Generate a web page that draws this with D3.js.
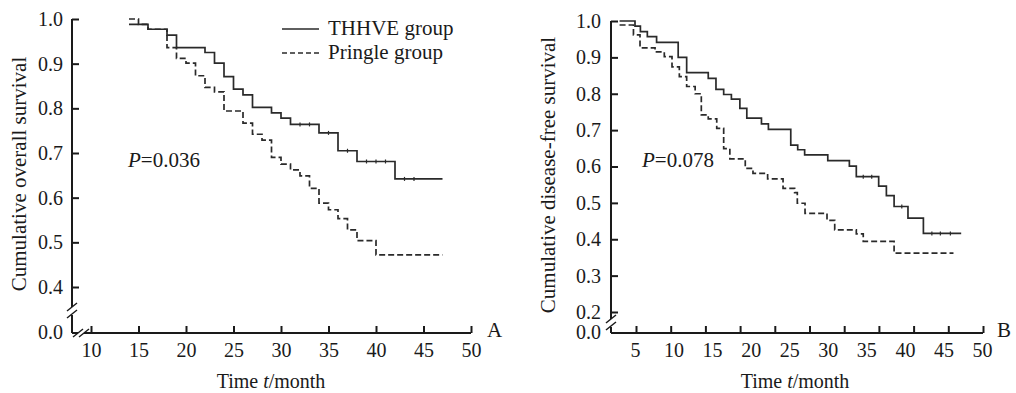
<!DOCTYPE html>
<html>
<head>
<meta charset="utf-8">
<script src="https://cdn.jsdelivr.net/npm/d3@7"></script>
<style>
  body { margin: 0; background: #fff; }
  svg text { font-family: "Liberation Serif", "Times New Roman", serif; fill: #1a1a1a; }
</style>
</head>
<body>
<div class="chart"></div>
<script>
// panel A: overall survival
const thhveOsTime = [14, 16, 18, 19, 22, 23, 24, 25, 26, 27, 29, 30, 31, 34, 36, 38, 42, 47]
const thhveOsSurv = [0.988, 0.977, 0.964, 0.936, 0.925, 0.901, 0.871, 0.843, 0.830, 0.802, 0.790, 0.778, 0.764, 0.745, 0.705, 0.681, 0.642, 0.642]
const thhveOsCensor = [32, 33, 35, 37, 39, 40, 41, 43, 44]
const pringleOsTime = [14, 15, 16, 18, 19, 20, 21, 22, 23, 24, 26, 27, 28, 29, 30, 31, 32, 33, 34, 35, 36, 37, 38, 40, 47]
const pringleOsSurv = [1.0, 0.988, 0.977, 0.936, 0.912, 0.901, 0.873, 0.847, 0.837, 0.794, 0.767, 0.742, 0.729, 0.690, 0.675, 0.662, 0.649, 0.621, 0.588, 0.573, 0.553, 0.528, 0.504, 0.472, 0.472]

// panel B: disease-free survival
const thhveDfsTime = [3, 5, 5.7, 6.6, 7.8, 10.6, 11.7, 14.5, 15.5, 16.5, 17.5, 18.6, 19.5, 21.4, 22.3, 25.2, 26.1, 27, 30, 32.8, 33.7, 36.6, 37.6, 38.6, 40.4, 42.4, 47.3]
const thhveDfsSurv = [1.0, 0.986, 0.971, 0.957, 0.941, 0.900, 0.858, 0.842, 0.812, 0.798, 0.785, 0.760, 0.733, 0.717, 0.702, 0.659, 0.646, 0.632, 0.616, 0.601, 0.572, 0.546, 0.520, 0.490, 0.458, 0.416, 0.416]
const thhveDfsCensor = [34.6, 35.7, 39.6, 43.5, 44.6, 45.9]
const pringleDfsTime = [3, 4.8, 5.65, 7.6, 8.8, 9.8, 10.75, 11.7, 12.8, 13.6, 14.5, 15.6, 16.5, 17.3, 19.3, 20.3, 22.2, 24.2, 25.7, 26.05, 27.05, 29.9, 30.9, 33.7, 34.6, 38.6, 46.3]
const pringleDfsSurv = [0.989, 0.962, 0.926, 0.915, 0.902, 0.874, 0.847, 0.82, 0.80, 0.742, 0.731, 0.705, 0.649, 0.621, 0.595, 0.581, 0.566, 0.54, 0.528, 0.499, 0.471, 0.452, 0.426, 0.415, 0.394, 0.362, 0.362]

const yTicksA = [0.4, 0.5, 0.6, 0.7, 0.8, 0.9, 1.0]
const yTicksB = [0.2, 0.3, 0.4, 0.5, 0.6, 0.7, 0.8, 0.9, 1.0]
const xTicksA = [10, 15, 20, 25, 30, 35, 40, 45, 50]
const xLabelsB = [5, 10, 15, 20, 25, 30, 35, 40, 45, 50]
const xMarksB = d3.range(11).map(i => 5 + 4.5 * i)
const groups = ["THHVE group", "Pringle group"]

var width = 1016
var height = 393
var ink = "#1a1a1a"

var svg = d3.select(".chart").append("svg")
  .attr("width", width)
  .attr("height", height)

function zip(t, s){ return t.map((d, i) => [d, s[i]]) }

function panel(p){
  var x = p.x, y = p.y
  var y0 = p.bottom
  var ax = x(p.axisStart)

  // y axis ticks + labels
  var ya = svg.append("g")
    .attr("transform", `translate(${ax},0)`)
    .call(d3.axisLeft(y).tickValues(p.yTicks).tickSize(-7).tickSizeOuter(0)
      .tickPadding(p.yPad).tickFormat(d3.format(".1f")))
  ya.select(".domain").remove()
  ya.selectAll("line").attr("stroke", ink).attr("stroke-width", 2)
  ya.selectAll("text").attr("font-size", 20)
  svg.append("text").attr("x", ax - p.yPad).attr("y", y0 + 6)
    .attr("text-anchor", "end").attr("font-size", 20).text("0.0")

  // x axis
  var xa = svg.append("g")
    .attr("transform", `translate(0,${y0})`)
    .call(d3.axisBottom(p.xMarkScale || x).tickValues(p.xMarks).tickSize(-7).tickSizeOuter(0).tickFormat(""))
  xa.select(".domain").remove()
  xa.selectAll("line").attr("stroke", ink).attr("stroke-width", 2)
  var xl = svg.append("g")
    .attr("transform", `translate(0,${y0})`)
    .call(d3.axisBottom(x).tickValues(p.xLabels).tickSize(0).tickPadding(10))
  xl.select(".domain").remove()
  xl.selectAll("text").attr("font-size", 20)

  // axis lines with breaks
  var yTop = y(1.0)
  var xEnd = (p.xMarkScale || x)(50)
  var lines = [
    [ax, yTop, ax, p.yBreak - 4],
    [ax, p.yBreak + 4, ax, y0],
  ]
  if (p.xBreak){
    lines.push([ax, y0, p.xBreak - 3, y0], [p.xBreak + 3, y0, xEnd, y0])
  } else {
    lines.push([ax, y0, xEnd, y0])
  }
  svg.selectAll(null).data(lines).enter().append("line")
    .attr("x1", d => d[0]).attr("y1", d => d[1]).attr("x2", d => d[2]).attr("y2", d => d[3])
    .attr("stroke", ink).attr("stroke-width", 2)

  var slashes = [[ax, p.yBreak - 4], [ax, p.yBreak + 3]]
  if (p.xBreak) slashes.push([p.xBreak - 3, y0], [p.xBreak + 3, y0])
  svg.selectAll(null).data(slashes).enter().append("line")
    .attr("x1", d => d[0] - 5).attr("y1", d => d[1] + 4)
    .attr("x2", d => d[0] + 5).attr("y2", d => d[1] - 4)
    .attr("stroke", ink).attr("stroke-width", 1.5)

  // survival curves
  var line = d3.line().x(d => x(d[0])).y(d => y(d[1])).curve(d3.curveStepAfter)
  svg.append("path").datum(zip(p.solidT, p.solidS)).attr("d", line)
    .attr("fill", "none").attr("stroke", "#2a2a2a").attr("stroke-width", 1.7)
  svg.append("path").datum(zip(p.dashT, p.dashS)).attr("d", line)
    .attr("fill", "none").attr("stroke", "#2a2a2a").attr("stroke-width", 1.7)
    .attr("stroke-dasharray", "6,3")

  // censor marks
  var step = d3.scaleThreshold().domain(p.solidT.slice(1)).range(p.solidS)
  svg.selectAll(null).data(p.censor).enter().append("line")
    .attr("x1", d => x(d)).attr("x2", d => x(d))
    .attr("y1", d => y(step(d)) - 2).attr("y2", d => y(step(d)) + 2)
    .attr("stroke", "#2a2a2a").attr("stroke-width", 1.2)

  // texts
  svg.append("text")
    .attr("transform", `translate(${p.yLabelX},${p.yLabelY}) rotate(-90)`)
    .attr("text-anchor", "middle").attr("font-size", 21).text(p.yLabel)
  var tl = svg.append("text").attr("x", p.xLabelX).attr("y", 388)
    .attr("text-anchor", "middle").attr("font-size", 20)
  tl.append("tspan").text("Time ")
  tl.append("tspan").attr("font-style", "italic").text("t")
  tl.append("tspan").text("/month")

  var pt = svg.append("text").attr("x", p.pX).attr("y", 167).attr("font-size", 21)
  pt.append("tspan").attr("font-style", "italic").text("P")
  pt.append("tspan").text("=" + p.pValue)

  svg.append("text").attr("x", p.letterX).attr("y", 337).attr("font-size", 21).text(p.letter)
}

panel({
  x: d3.scaleLinear().domain([8, 50]).range([72, 471]),
  y: d3.scaleLinear().domain([0.4, 1.0]).range([287, 19]),
  axisStart: 8, bottom: 333, yBreak: 311, xBreak: 81, yPad: 9,
  yTicks: yTicksA, xMarks: xTicksA, xLabels: xTicksA,
  solidT: thhveOsTime, solidS: thhveOsSurv, censor: thhveOsCensor,
  dashT: pringleOsTime, dashS: pringleOsSurv,
  yLabel: "Cumulative overall survival", yLabelX: 26, yLabelY: 174,
  xLabelX: 271, pX: 128, pValue: "0.036", letter: "A", letterX: 487
})

panel({
  x: d3.scaleLinear().domain([5, 50]).range([635, 982]),
  xMarkScale: d3.scaleLinear().domain([5, 50]).range([636, 983]),
  y: d3.scaleLinear().domain([0.2, 1.0]).range([312, 21]),
  axisStart: 5 - 24 / 7.71, bottom: 333, yBreak: 323, xBreak: null, yPad: 10,
  yTicks: yTicksB, xMarks: xMarksB, xLabels: xLabelsB,
  solidT: thhveDfsTime, solidS: thhveDfsSurv, censor: thhveDfsCensor,
  dashT: pringleDfsTime, dashS: pringleDfsSurv,
  yLabel: "Cumulative disease-free survival", yLabelX: 555, yLabelY: 175,
  xLabelX: 795, pX: 642, pValue: "0.078", letter: "B", letterX: 997
})

// legend
var leg = svg.append("g")
leg.selectAll("line").data(groups).enter().append("line")
  .attr("x1", 282).attr("x2", 319)
  .attr("y1", (d, i) => 29 + i * 24).attr("y2", (d, i) => 29 + i * 24)
  .attr("stroke", "#2a2a2a").attr("stroke-width", 1.7)
  .attr("stroke-dasharray", (d, i) => i ? "5,3" : null)
leg.selectAll("text").data(groups).enter().append("text")
  .attr("x", 328).attr("y", (d, i) => 35 + i * 24)
  .attr("font-size", 21).text(d => d)
</script>
</body>
</html>
